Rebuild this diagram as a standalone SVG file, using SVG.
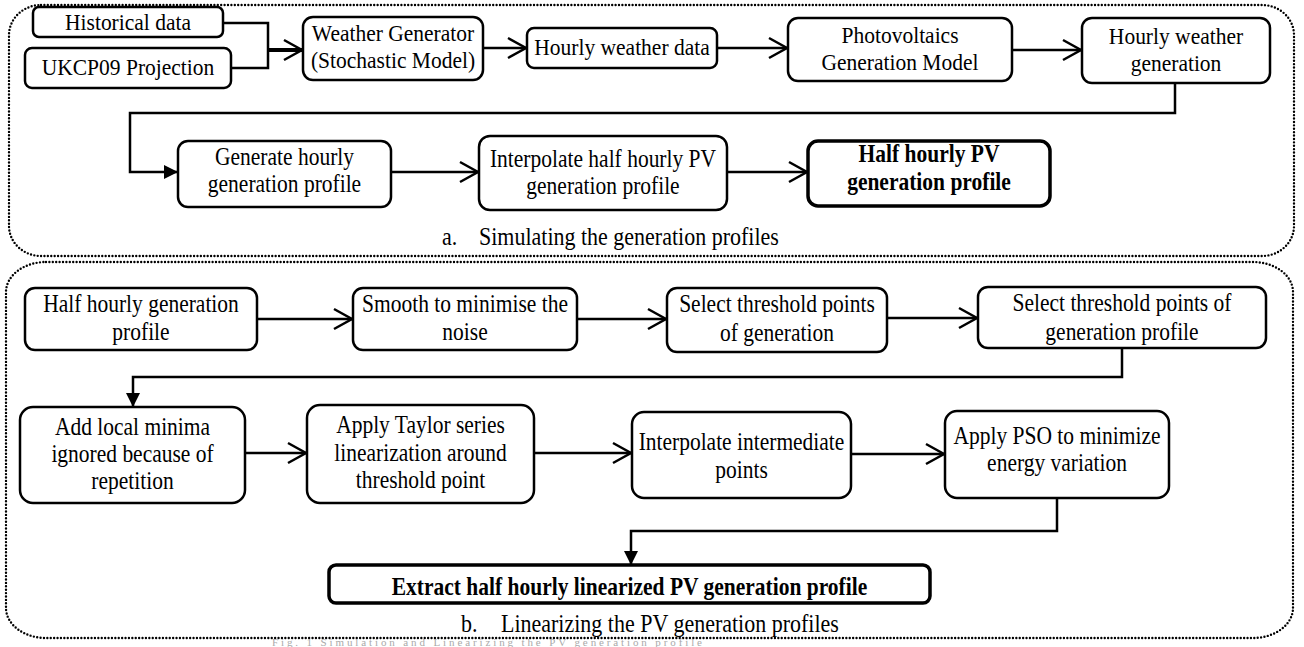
<svg xmlns="http://www.w3.org/2000/svg" width="1304" height="647" viewBox="0 0 1304 647">
<style>
.box{fill:#fff;stroke:#000;stroke-width:2.5}
.bold{fill:#fff;stroke:#000;stroke-width:3.5}
.t{font-family:"Liberation Serif","Times New Roman",serif;font-size:21.5px;fill:#000;text-anchor:middle}
.tb{font-family:"Liberation Serif","Times New Roman",serif;font-size:21.5px;font-weight:bold;fill:#000;text-anchor:middle}
.cap{font-family:"Liberation Serif","Times New Roman",serif;font-size:22px;fill:#000}
.fig{font-family:"Liberation Serif","Times New Roman",serif;font-size:11px;fill:#aaa}
.dot{fill:none;stroke:#000;stroke-width:2.4;stroke-dasharray:0 3.4;stroke-linecap:round}
.c{fill:none;stroke:#000;stroke-width:2.5}
.co{fill:none;stroke:#000;stroke-width:2.5;marker-end:url(#open)}
.cf{fill:none;stroke:#000;stroke-width:2.5;marker-end:url(#filled)}
</style>
<defs>
<marker id="open" markerUnits="userSpaceOnUse" viewBox="-2 -2 24 24" markerWidth="24" markerHeight="24" refX="19" refY="10" orient="auto">
<path d="M1,0 L19,10 L1,20" fill="none" stroke="#000" stroke-width="2.5"/>
</marker>
<marker id="filled" markerUnits="userSpaceOnUse" viewBox="0 0 14 14" markerWidth="14" markerHeight="14" refX="13" refY="7" orient="auto">
<path d="M0,0 L14,7 L0,14 z" fill="#000"/>
</marker>
</defs>

<g id="containers">
<rect id="container-a" class="dot" x="9" y="5" width="1285" height="251" rx="32" ry="30"/>
<rect id="container-b" class="dot" x="6" y="262" width="1287" height="376" rx="40" ry="30"/>
</g>

<g id="connectors">
<path class="c" d="M223,23 H268 V68 H231"/>
<path class="co" d="M268,50 H302" style="stroke-width:4"/>
<path class="co" d="M483,48 H526"/>
<path class="co" d="M717,48 H787"/>
<path class="co" d="M1012,50 H1081"/>
<path class="cf" d="M1175,83 V113 H130 V172 H177"/>
<path class="co" d="M391,172 H478"/>
<path class="co" d="M727,172 H807"/>
<path class="co" d="M257,319 H352"/>
<path class="co" d="M577,319 H666"/>
<path class="co" d="M887,318 H977"/>
<path class="cf" d="M1122,348 V377 H133 V406"/>
<path class="co" d="M245,453 H306"/>
<path class="co" d="M534,453 H631"/>
<path class="co" d="M851,454 H944"/>
<path class="cf" d="M1057,498 V531 H631 V564"/>
</g>

<g id="n-historical"><rect class="box" x="33" y="7" width="190" height="30" rx="6"/><text class="t" transform="translate(128,30) scale(1,1.08)">Historical data</text></g>
<g id="n-ukcp09"><rect class="box" x="25" y="48" width="206" height="40" rx="7"/><text class="t" transform="translate(128,75) scale(1,1.08)">UKCP09 Projection</text></g>
<g id="n-weathergen"><rect class="box" x="303" y="17" width="180" height="63" rx="10"/><text class="t" transform="translate(393,41) scale(1,1.1)">Weather Generator</text><text class="t" transform="translate(393,68) scale(1,1.1)">(Stochastic Model)</text></g>
<g id="n-hourlydata"><rect class="box" x="527" y="28" width="190" height="40" rx="7"/><text class="t" transform="translate(622,55) scale(1,1.1)">Hourly weather data</text></g>
<g id="n-pvmodel"><rect class="box" x="788" y="18" width="224" height="63" rx="10"/><text class="t" transform="translate(900,43) scale(1,1.1)">Photovoltaics</text><text class="t" transform="translate(900,70) scale(1,1.1)">Generation Model</text></g>
<g id="n-hourlygen"><rect class="box" x="1082" y="18" width="188" height="65" rx="10"/><text class="t" transform="translate(1176,44) scale(1,1.1)">Hourly weather</text><text class="t" transform="translate(1176,71) scale(1,1.1)">generation</text></g>
<g id="n-genprofile"><rect class="box" x="178" y="141" width="213" height="66" rx="10"/><text class="t" transform="translate(284.5,165) scale(1,1.15)">Generate hourly</text><text class="t" transform="translate(284.5,192) scale(1,1.15)">generation profile</text></g>
<g id="n-interp"><rect class="box" x="479" y="136" width="248" height="74" rx="11"/><text class="t" transform="translate(603,167) scale(1,1.15)">Interpolate half hourly PV</text><text class="t" transform="translate(603,194) scale(1,1.15)">generation profile</text></g>
<g id="n-halfpv"><rect class="bold" x="808" y="141" width="242" height="65" rx="10"/><text class="tb" transform="translate(929,162) scale(1,1.15)">Half hourly PV</text><text class="tb" transform="translate(929,190) scale(1,1.15)">generation profile</text></g>
<g id="cap-a"><text class="cap" transform="translate(442,245) scale(1,1.12)">a.</text><text class="cap" transform="translate(479,245) scale(1,1.12)">Simulating the generation profiles</text></g>

<g id="n-halfgen"><rect class="box" x="25" y="288" width="232" height="62" rx="10"/><text class="t" transform="translate(141,312) scale(1,1.17)">Half hourly generation</text><text class="t" transform="translate(141,340) scale(1,1.17)">profile</text></g>
<g id="n-smooth"><rect class="box" x="353" y="288" width="224" height="62" rx="10"/><text class="t" transform="translate(465,312) scale(1,1.17)">Smooth to minimise the</text><text class="t" transform="translate(465,340) scale(1,1.17)">noise</text></g>
<g id="n-select1"><rect class="box" x="667" y="288" width="220" height="64" rx="10"/><text class="t" transform="translate(777,312) scale(1,1.17)">Select threshold points</text><text class="t" transform="translate(777,341) scale(1,1.17)">of generation</text></g>
<g id="n-select2"><rect class="box" x="978" y="287" width="288" height="61" rx="10"/><text class="t" transform="translate(1122,311) scale(1,1.17)">Select threshold points of</text><text class="t" transform="translate(1122,340) scale(1,1.17)">generation profile</text></g>
<g id="n-localmin"><rect class="box" x="20" y="407" width="225" height="96" rx="13"/><text class="t" transform="translate(132.5,435) scale(1,1.17)">Add local minima</text><text class="t" transform="translate(132.5,462) scale(1,1.17)">ignored because of</text><text class="t" transform="translate(132.5,489) scale(1,1.17)">repetition</text></g>
<g id="n-taylor"><rect class="box" x="307" y="405" width="227" height="98" rx="13"/><text class="t" transform="translate(420.5,433) scale(1,1.17)">Apply Taylor series</text><text class="t" transform="translate(420.5,461) scale(1,1.17)">linearization around</text><text class="t" transform="translate(420.5,488) scale(1,1.17)">threshold point</text></g>
<g id="n-interm"><rect class="box" x="632" y="412" width="219" height="86" rx="12"/><text class="t" transform="translate(741.5,450) scale(1,1.17)">Interpolate intermediate</text><text class="t" transform="translate(741.5,478) scale(1,1.17)">points</text></g>
<g id="n-pso"><rect class="box" x="945" y="411" width="224" height="87" rx="12"/><text class="t" transform="translate(1057,444) scale(1,1.17)">Apply PSO to minimize</text><text class="t" transform="translate(1057,471) scale(1,1.17)">energy variation</text></g>
<g id="n-extract"><rect class="bold" x="329" y="565" width="601" height="38" rx="7"/><text class="tb" transform="translate(629.5,595) scale(1,1.15)">Extract half hourly linearized PV generation profile</text></g>
<g id="cap-b"><text class="cap" transform="translate(461,632) scale(1,1.12)">b.</text><text class="cap" transform="translate(501,632) scale(1,1.12)">Linearizing the PV generation profiles</text></g>

<text class="fig" x="272" y="646" textLength="430" lengthAdjust="spacing">Fig. 1 Simulation and Linearizing the PV generation profile</text>
</svg>
